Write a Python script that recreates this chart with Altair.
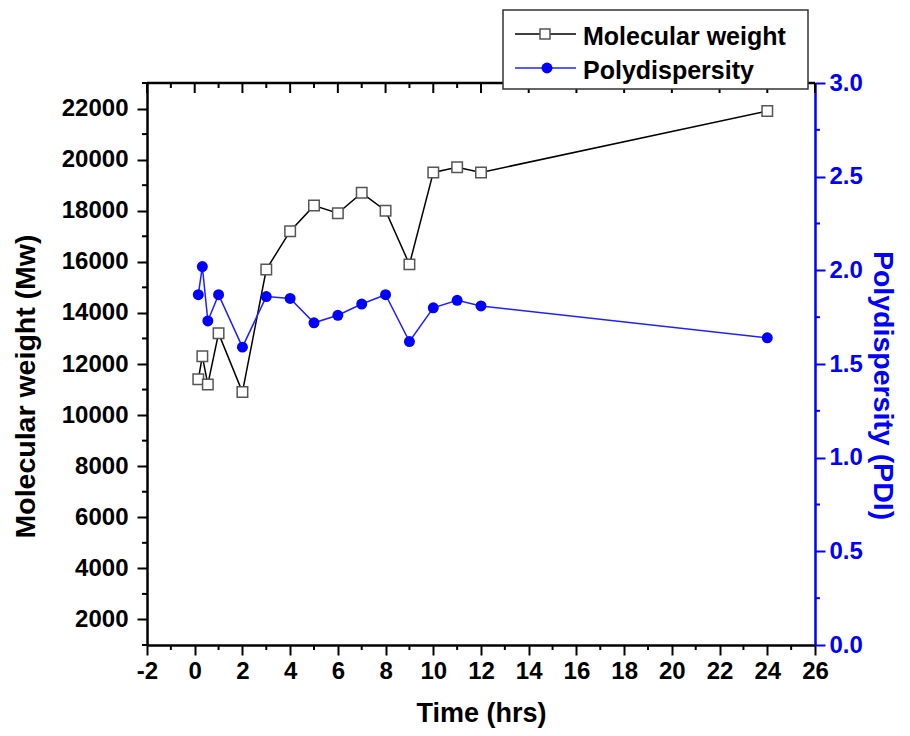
import altair as alt
import pandas as pd

# ---- data ----
time_hrs = [0.15, 0.32, 0.55, 1, 2, 3, 4, 5, 6, 7, 8, 9, 10, 11, 12, 24]
mol_weight = [11400, 12300, 11200, 13200, 10900, 15700, 17200, 18200, 17900,
              18700, 18000, 15900, 19500, 19700, 19500, 21900]
pdi = [1.87, 2.02, 1.73, 1.87, 1.59, 1.86, 1.85, 1.72, 1.76, 1.82, 1.87,
       1.62, 1.80, 1.84, 1.81, 1.64]

x_major = list(range(-2, 27, 2))
x_minor = list(range(-1, 26, 2))
mw_major = list(range(2000, 22001, 2000))
mw_minor = list(range(1000, 23001, 2000))
pdi_major = [0.0, 0.5, 1.0, 1.5, 2.0, 2.5, 3.0]
pdi_minor = [0.25, 0.75, 1.25, 1.75, 2.25, 2.75]
legend_labels = ["Molecular weight", "Polydispersity"]

W, H = 668, 562
FONT = "Liberation Sans"
BLUE = "#0000ff"
LINE_BLUE = "#2020ff"

df = pd.DataFrame({"t": time_hrs, "mw": mol_weight, "pdi": pdi})
df_xmaj = pd.DataFrame({"v": x_major})
df_xmin = pd.DataFrame({"v": x_minor})
df_mwmin = pd.DataFrame({"v": mw_minor})
df_pdimin = pd.DataFrame({"v": pdi_minor})
one = pd.DataFrame({"a": [0]})

x_scale = alt.Scale(domain=[-2, 26], nice=False, zero=False)
mw_scale = alt.Scale(domain=[1000, 23000], nice=False, zero=False)
pdi_scale = alt.Scale(domain=[0, 3], nice=False, zero=False)

common = dict(labelFont=FONT, labelFontWeight="bold", labelFontSize=24,
              titleFont=FONT, titleFontWeight="bold", grid=False,
              tickSize=10, tickWidth=2, domainWidth=2.5,
              labelOverlap=False, labelFlush=False)

x_axis = alt.Axis(values=x_major, labelExpr="'' + datum.value",
                  title="Time (hrs)", titleFontSize=27, titleColor="black",
                  titleX=W / 2, titleY=76, titleBaseline="alphabetic",
                  titleAlign="center", labelColor="black", labelPadding=4,
                  tickColor="black", domainColor="black", **common)

mw_axis = alt.Axis(values=mw_major, format="d", orient="left",
                   title="Molecular weight (Mw)", titleFontSize=28.5,
                   titleColor="black", titleAngle=270, titleX=-122,
                   titleY=303, titleBaseline="middle", titleAlign="center",
                   labelColor="black", labelPadding=9, tickColor="black",
                   domainColor="black", **common)

pdi_axis = alt.Axis(values=pdi_major, format=".1f", orient="right",
                    title="Polydispersity (PDI)", titleFontSize=28.5,
                    titleColor=BLUE, titleAngle=90, titleX=67, titleY=302,
                    titleBaseline="middle", titleAlign="center",
                    labelColor=BLUE, labelPadding=4, tickColor=BLUE,
                    domainColor=BLUE, **common)


def X(field):
    return alt.X(field, type="quantitative", scale=x_scale, axis=x_axis)


def YL(field):
    return alt.Y(field, type="quantitative", scale=mw_scale, axis=mw_axis)


def YR(field):
    return alt.Y(field, type="quantitative", scale=pdi_scale, axis=pdi_axis)


# ---- left (molecular weight) group ----
mw_line = alt.Chart(df).mark_line(color="black", strokeWidth=1.5).encode(
    x=X("t"), y=YL("mw"))
mw_pts = alt.Chart(df).mark_square(
    fill="white", stroke="#555555", strokeWidth=1.5, size=110, opacity=1
).encode(x=X("t"), y=YL("mw"))
mw_minor_ticks = alt.Chart(df_mwmin).mark_rule(color="black", strokeWidth=2).encode(
    y=YL("v"), x=alt.value(-5), x2=alt.value(0))

x_minor_bottom = alt.Chart(df_xmin).mark_rule(color="black", strokeWidth=2).encode(
    x=X("v"), y=alt.value(H), y2=alt.value(H + 5))
x_major_top = alt.Chart(df_xmaj).mark_rule(color="black", strokeWidth=2).encode(
    x=X("v"), y=alt.value(0), y2=alt.value(10))
x_minor_top = alt.Chart(df_xmin).mark_rule(color="black", strokeWidth=2).encode(
    x=X("v"), y=alt.value(0), y2=alt.value(5))
top_frame = alt.Chart(one).mark_rule(color="black", strokeWidth=2.5).encode(
    x=alt.value(0), x2=alt.value(W), y=alt.value(0))

left_group = alt.layer(mw_line, mw_pts, mw_minor_ticks, x_minor_bottom,
                       x_major_top, x_minor_top, top_frame)

# ---- right (PDI) group ----
pdi_line = alt.Chart(df).mark_line(color=LINE_BLUE, strokeWidth=1.5).encode(
    x=X("t"), y=YR("pdi"))
pdi_pts = alt.Chart(df).mark_circle(color=BLUE, size=120, opacity=1).encode(
    x=X("t"), y=YR("pdi"))
pdi_minor_ticks = alt.Chart(df_pdimin).mark_rule(color=BLUE, strokeWidth=2).encode(
    y=YR("v"), x=alt.value(W), x2=alt.value(W + 5))

right_group = alt.layer(pdi_line, pdi_pts, pdi_minor_ticks)

# ---- legend box ----
box = alt.Chart(one).mark_rect(fill="white", stroke="#333333", strokeWidth=1.5).encode(
    x=alt.value(356), x2=alt.value(661), y=alt.value(-73), y2=alt.value(6))
leg_line1 = alt.Chart(one).mark_rule(color="black", strokeWidth=1.5).encode(
    x=alt.value(368), x2=alt.value(429), y=alt.value(-49))
leg_pt1 = alt.Chart(one).mark_square(
    fill="white", stroke="#555555", strokeWidth=1.5, size=100, opacity=1
).encode(x=alt.value(398), y=alt.value(-49))
leg_txt1 = alt.Chart(one).mark_text(
    align="left", baseline="alphabetic", font=FONT, fontSize=25,
    fontWeight="bold", color="black"
).encode(x=alt.value(436), y=alt.value(-38), text=alt.value(legend_labels[0]))
leg_line2 = alt.Chart(one).mark_rule(color=LINE_BLUE, strokeWidth=1.5).encode(
    x=alt.value(368), x2=alt.value(429), y=alt.value(-15))
leg_pt2 = alt.Chart(one).mark_circle(color=BLUE, size=120, opacity=1).encode(
    x=alt.value(400), y=alt.value(-15))
leg_txt2 = alt.Chart(one).mark_text(
    align="left", baseline="alphabetic", font=FONT, fontSize=25,
    fontWeight="bold", color="black"
).encode(x=alt.value(436), y=alt.value(-4), text=alt.value(legend_labels[1]))

legend_group = alt.layer(box, leg_line1, leg_pt1, leg_txt1,
                         leg_line2, leg_pt2, leg_txt2)

chart = alt.layer(left_group, right_group, legend_group).resolve_scale(
    y="independent"
).properties(
    width=W, height=H,
    autosize=alt.AutoSizeParams(type="none"),
    padding={"left": 139, "top": 75, "right": 87, "bottom": 83},
    background="white",
).configure_view(strokeWidth=0)

chart.save("out.html", embed_options={"renderer": "svg", "actions": False})
